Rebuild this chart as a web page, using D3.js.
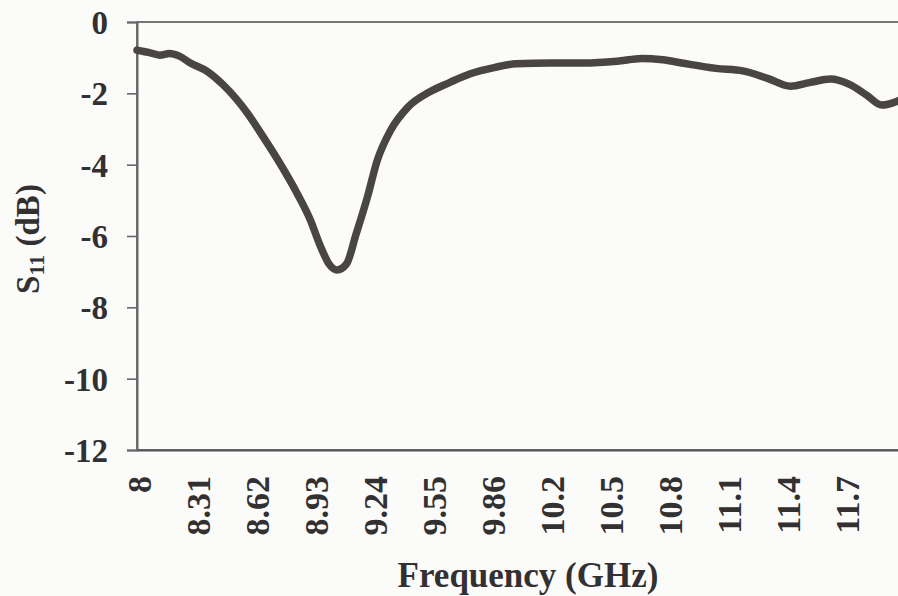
<!DOCTYPE html>
<html>
<head>
<meta charset="utf-8">
<script src="https://cdn.jsdelivr.net/npm/d3@7"></script>
<style>
  html, body { margin: 0; padding: 0; background: #fbfbfa; }
  svg { display: block; }
  text { font-family: "Liberation Serif", "Times New Roman", serif; font-weight: bold; fill: #323030; }
</style>
</head>
<body>
<svg id="chart" width="898" height="596"></svg>
<script>
// ---- data ----
const frequency = [8.00, 8.06, 8.12, 8.17, 8.22, 8.28, 8.37, 8.45, 8.52, 8.58, 8.66, 8.75, 8.84, 8.91, 8.96, 9.01, 9.05, 9.10, 9.15, 9.21, 9.26, 9.33, 9.42, 9.54, 9.64, 9.75, 9.88, 9.99, 10.17, 10.34, 10.52, 10.65, 10.76, 10.86, 11.04, 11.18, 11.31, 11.43, 11.53, 11.64, 11.74, 11.83, 11.91, 12.00];
const s11 = [-0.79, -0.85, -0.93, -0.88, -0.95, -1.15, -1.39, -1.75, -2.15, -2.56, -3.2, -3.96, -4.8, -5.55, -6.25, -6.8, -6.95, -6.78, -5.95, -4.9, -3.9, -3.05, -2.4, -1.95, -1.7, -1.45, -1.27, -1.17, -1.15, -1.15, -1.1, -1.02, -1.06, -1.15, -1.3, -1.37, -1.58, -1.8, -1.7, -1.6, -1.75, -2.05, -2.33, -2.2];
const xTickValues = [8, 8.31, 8.62, 8.93, 9.24, 9.55, 9.86, 10.17, 10.48, 10.79, 11.1, 11.41, 11.72];
const xTickLabels = ["8", "8.31", "8.62", "8.93", "9.24", "9.55", "9.86", "10.2", "10.5", "10.8", "11.1", "11.4", "11.7"];
const yTickValues = [0, -2, -4, -6, -8, -10, -12];
const xTitle = "Frequency (GHz)";

// ---- layout ----
const svg = d3.select("#chart");
const mLeft = 137, mRight = 899, mTop = 22, mBottom = 450;

const x = d3.scaleLinear().domain([8, 12]).range([mLeft, mRight]);
const y = d3.scaleLinear().domain([-12, 0]).range([mBottom, mTop]);

// plot frame
svg.append("rect")
  .attr("x", mLeft).attr("y", mTop)
  .attr("width", mRight - mLeft + 10).attr("height", mBottom - mTop)
  .attr("fill", "none").attr("stroke", "#555").attr("stroke-width", 1.6);

// y axis
const yAxis = d3.axisLeft(y).tickValues(yTickValues).tickFormat(d => d).tickSize(10).tickPadding(19);
const gy = svg.append("g").attr("transform", `translate(${mLeft},0)`).call(yAxis);
gy.select(".domain").attr("stroke", "#666").attr("stroke-width", 2);
gy.selectAll(".tick line").attr("stroke", "#666").attr("stroke-width", 1.6);
gy.selectAll(".tick text")
  .attr("font-size", 33).attr("dy", "0.35em")
  .style("font-family", "'Liberation Serif', serif").style("font-weight", "bold").attr("fill", "#323030");

// x axis
const xAxis = d3.axisBottom(x).tickValues(xTickValues)
  .tickFormat((d, i) => xTickLabels[i]).tickSize(0).tickPadding(0);
const gx = svg.append("g").attr("transform", `translate(0,${mBottom})`).call(xAxis);
gx.select(".domain").attr("stroke", "#555").attr("stroke-width", 2);
gx.selectAll(".tick text")
  .attr("font-size", 34)
  .attr("text-anchor", "end")
  .attr("transform", "translate(13,26) rotate(-90)")
  .attr("x", 0).attr("y", 0).attr("dy", 0)
  .style("font-family", "'Liberation Serif', serif").style("font-weight", "bold").attr("fill", "#323030");

// curve
const pts = frequency.map((f, i) => [f, s11[i]]);
svg.append("defs").append("clipPath").attr("id", "clip")
  .append("rect").attr("x", mLeft - 6).attr("y", mTop).attr("width", mRight - mLeft + 20).attr("height", mBottom - mTop);
svg.append("path")
  .datum(pts)
  .attr("clip-path", "url(#clip)")
  .attr("fill", "none")
  .attr("stroke", "#4a4545")
  .attr("stroke-width", 7.5)
  .attr("stroke-linejoin", "round")
  .attr("stroke-linecap", "round")
  .attr("d", d3.line().x(d => x(d[0])).y(d => y(d[1])).curve(d3.curveMonotoneX));

// axis titles
svg.append("text")
  .attr("x", 528).attr("y", 587)
  .attr("text-anchor", "middle")
  .attr("font-size", 35)
  .text(xTitle);

const yt = svg.append("text")
  .attr("transform", "translate(39,239) rotate(-90)")
  .attr("text-anchor", "middle")
  .attr("font-size", 33);
yt.append("tspan").text("S");
yt.append("tspan").attr("font-size", 22).attr("dy", 5).text("11");
yt.append("tspan").attr("dy", -5).text(" (dB)");
</script>
</body>
</html>
